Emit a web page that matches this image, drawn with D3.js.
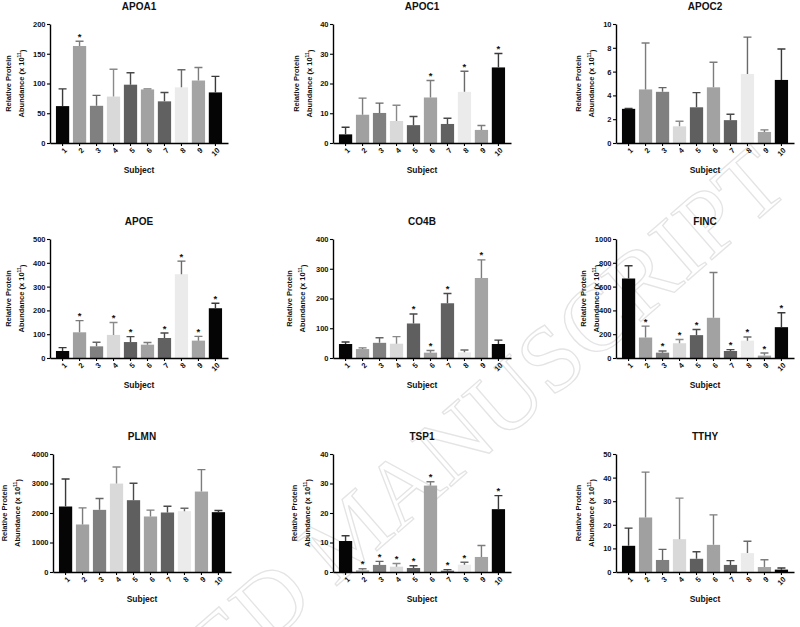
<!DOCTYPE html>
<html><head><meta charset="utf-8">
<script src="https://cdn.jsdelivr.net/npm/d3@7"></script>
<style>body{margin:0;background:#fff}svg{display:block}text{font-family:"Liberation Sans",Arial,sans-serif;font-weight:bold;fill:#111}</style>
</head><body>
<script>
// ---------- data ----------
const subjects = ["1","2","3","4","5","6","7","8","9","10"];
const proteins = ["APOA1","APOC1","APOC2","APOE","CO4B","FINC","PLMN","TSP1","TTHY"];
const yMax  = [200, 40, 10, 500, 400, 1000, 4000, 40, 50];
const yStep = [50, 10, 2, 100, 100, 200, 1000, 10, 10];

const apoa1Mean = [62,163,62.5,78,98,90,70,93.5,105,85];
const apoa1Sd   = [29,8,17.5,46,20,1,15,29.5,22,27];
const apoc1Mean = [2.9,9.5,10.1,7.4,6.0,15.3,6.4,17.2,4.4,25.4];
const apoc1Sd   = [2.4,5.6,3.3,5.3,2.9,5.7,1.9,6.9,1.5,4.7];
const apoc2Mean = [2.87,4.5,4.3,1.4,3.0,4.68,1.92,5.8,0.93,5.3];
const apoc2Sd   = [0.03,3.9,0.35,0.43,1.23,2.11,0.5,3.1,0.17,2.6];
const apoeMean  = [29.5,108,49,97,67,56,84,352,73,209];
const apoeSd    = [14,49,17,52,23,9,21,55,18,21];
const co4bMean  = [47,30,51,48,116,18,184,19,269,47];
const co4bSd    = [7,4,17,24,32,7,33,8,61,13];
const fincMean  = [668,172,45,124,192,338,59,146,20,259];
const fincSd    = [107,96,14,31,48,380,11,31,22,121];
const plmnMean  = [2220,1611,2107,2997,2434,1882,2017,2062,2727,2028];
const plmnSd    = [935,564,383,563,574,214,214,101,743,57];
const tsp1Mean  = [10.5,0.56,2.4,1.8,1.35,29.3,0.45,2.5,5.1,21.3];
const tsp1Sd    = [1.8,0.54,1.2,1.1,0.75,1.3,0.35,0.8,3.9,4.6];
const tthyMean  = [11.1,23.1,5.1,13.9,5.6,11.5,3.0,8.0,2.1,1.0];
const tthySd    = [7.5,19.2,4.5,17.4,3.0,12.7,1.8,5,3.1,0.7];

const means = [apoa1Mean,apoc1Mean,apoc2Mean,apoeMean,co4bMean,fincMean,plmnMean,tsp1Mean,tthyMean];
const sds   = [apoa1Sd,apoc1Sd,apoc2Sd,apoeSd,co4bSd,fincSd,plmnSd,tsp1Sd,tthySd];
const stars = [["2"],["6","8","10"],[],["2","4","5","7","8","9","10"],["5","6","7","9"],
               ["2","3","4","5","7","8","9","10"],[],["2","3","4","5","6","7","8","10"],[]];

// ---------- style / layout ----------
const barColors = ["#050505","#a0a0a0","#808080","#d9d9d9","#5f5f5f","#a2a2a2","#616161","#ebebeb","#a4a4a4","#050505"];
const errColors = ["#3a3a3a","#7c7c7c","#666","#8a8a8a","#4a4a4a","#7c7c7c","#4a4a4a","#6a6a6a","#7c7c7c","#3a3a3a"];
const colX = [50,333,616];
const rowTop = [24,239,454];
const rowZero = [143,358,572];
const plotW = 178;
const labelOff = [29,24,25,29,31,20,36,26,25];

const svg = d3.select("body").append("svg").attr("width",800).attr("height",627);

// watermark
svg.append("text")
  .attr("transform","translate(792,190) rotate(-41)")
  .attr("text-anchor","end")
  .style("font-family","'Liberation Serif','Times New Roman',serif")
  .style("font-weight","normal")
  .style("font-size","94px")
  .style("fill","none")
  .style("stroke","#e4e4e4")
  .style("stroke-width","1.3px")
  .text("ACCEPTED MANUSCRIPT");

proteins.forEach((name,i)=>{
  const col=i%3,row=Math.floor(i/3);
  const ax = colX[col] + (i===6?3:0);
  const top=rowTop[row], zero=rowZero[row];
  const g = svg.append("g");
  const x = d3.scaleBand().domain(subjects).range([ax,ax+plotW]).paddingInner(0.22).paddingOuter(0.35);
  const y = d3.scaleLinear().domain([0,yMax[i]]).range([zero,top]);
  const data = subjects.map((s,k)=>({s,k,m:means[i][k],sd:sds[i][k]}));

  // bars
  g.selectAll("rect.bar").data(data).join("rect")
    .attr("x",d=>x(d.s)).attr("width",x.bandwidth())
    .attr("y",d=>y(d.m)).attr("height",d=>zero-y(d.m))
    .attr("fill",d=>barColors[d.k]);
  // error bars
  const cw=4;
  g.selectAll("path.err").data(data).join("path")
    .attr("d",d=>{const cx=x(d.s)+x.bandwidth()/2, y1=y(d.m), y2=y(d.m+d.sd);
      return `M${cx},${y1}V${y2}M${cx-cw},${y2}H${cx+cw}`;})
    .attr("stroke",d=>errColors[d.k]).attr("stroke-width",1.4).attr("fill","none");
  // stars
  g.selectAll("text.star").data(data.filter(d=>stars[i].includes(d.s))).join("text")
    .attr("x",d=>x(d.s)+x.bandwidth()/2).attr("y",d=>y(d.m+d.sd)-1.5)
    .attr("text-anchor","middle").style("font-size","9.5px").text("*");

  // axes
  const ya = d3.axisLeft(y).tickValues(d3.range(0,yMax[i]+yStep[i]/2,yStep[i])).tickSize(3).tickSizeOuter(0).tickPadding(1.5).tickFormat(d3.format("d"));
  const yg = g.append("g").attr("transform",`translate(${ax},0)`).call(ya);
  const xa = d3.axisBottom(x).tickSize(3).tickSizeOuter(0).tickFormat(()=> "");
  const xg = g.append("g").attr("transform",`translate(0,${zero})`).call(xa);
  [yg,xg].forEach(a=>{
    a.select(".domain").attr("stroke","#000").attr("stroke-width",1.4);
    a.selectAll(".tick line").attr("stroke","#000").attr("stroke-width",1.1);
  });
  yg.selectAll(".tick text").style("font-size","7.5px").style("font-family","'Liberation Sans',Arial,sans-serif").style("font-weight","bold").attr("fill","#111");
  // rotated x labels
  g.selectAll("text.xl").data(subjects).join("text")
    .attr("transform",d=>`translate(${x(d)+x.bandwidth()/2+3},${zero+6}) rotate(-45)`)
    .attr("text-anchor","end").attr("dy","0.35em").style("font-size","7.5px").text(d=>d);

  // titles
  g.append("text").attr("x",ax+plotW/2).attr("y",top-14).attr("text-anchor","middle")
    .style("font-size","10px").text(name);
  g.append("text").attr("x",ax+plotW/2).attr("y",zero+30).attr("text-anchor","middle")
    .style("font-size","8.5px").text("Subject");
  const cy=(top+zero)/2, lx=ax-labelOff[i];
  g.append("text").attr("transform",`translate(${lx-12.5},${cy}) rotate(-90)`).attr("text-anchor","middle")
    .attr("dy","0.35em").style("font-size","7.5px").text("Relative Protein");
  const t2 = g.append("text").attr("transform",`translate(${lx},${cy}) rotate(-90)`).attr("text-anchor","middle")
    .attr("dy","0.35em").style("font-size","7.5px");
  t2.append("tspan").text("Abundance (x 10");
  t2.append("tspan").attr("dy","-0.45em").style("font-size","5px").text("11");
  t2.append("tspan").attr("dy","0.45em").text(")");
});
</script>
</body></html>
